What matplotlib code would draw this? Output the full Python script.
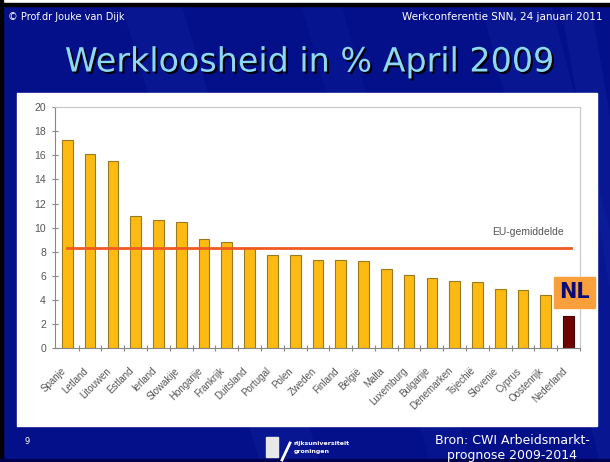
import matplotlib
matplotlib.use("Agg")
import matplotlib.pyplot as plt
from matplotlib.patches import Rectangle, Polygon
import matplotlib.patheffects as pe

countries = ["Spanje", "Letland", "Litouwen", "Estland", "Ierland", "Slowakije",
             "Hongarije", "Frankrijk", "Duitsland", "Portugal", "Polen", "Zweden",
             "Finland", "België", "Malta", "Luxemburg", "Bulgarije", "Denemarken",
             "Tsjechië", "Slovenië", "Cyprus", "Oostenrijk", "Nederland"]
values = [17.3, 16.1, 15.5, 11.0, 10.6, 10.5, 9.1, 8.8, 8.3, 7.7, 7.7, 7.35,
          7.35, 7.25, 6.6, 6.1, 5.85, 5.6, 5.5, 4.9, 4.85, 4.45, 2.7]
eu_average = 8.3
eu_label = "EU-gemiddelde"
y_ticks = list(range(0, 21, 2))

W, H = 610, 462
fig = plt.figure(figsize=(W / 100, H / 100), dpi=100)
fig.patch.set_facecolor("#050F88")

def fx(x): return x / W
def fy(y): return 1 - y / H

# background streaks
bg = fig.add_axes([0, 0, 1, 1])
bg.set_xlim(0, W); bg.set_ylim(H, 0); bg.axis("off")
bg.add_patch(Rectangle((0, 0), W, H, color="#04108A", zorder=0))
for (x0, x1, w, a) in [(120, 260, 60, 0.10), (300, 430, 40, 0.08), (480, 600, 70, 0.10), (560, 640, 30, 0.12)]:
    bg.add_patch(Polygon([(x0, 0), (x0 + w, 0), (x1 + w, H), (x1, H)], closed=True,
                         color="#2F4FD0", alpha=a, lw=0, zorder=1))
bg.add_patch(Rectangle((0, 0), W, 3, color="white", zorder=2))
bg.add_patch(Rectangle((0, 3), W, 3, color="black", zorder=2))
bg.add_patch(Rectangle((0, 0), 3, H, color="black", zorder=2))
bg.add_patch(Rectangle((0, H - 3), W, 3, color="#000050", zorder=2))
# white panel
bg.add_patch(Rectangle((17, 93), 580, 333, color="white", zorder=3))

# header
fig.text(fx(8), fy(17), "© Prof.dr Jouke van Dijk", color="white", fontsize=7,
         family="DejaVu Sans", ha="left", va="center")
fig.text(fx(603), fy(17), "Werkconferentie SNN, 24 januari 2011", color="white", fontsize=7.5,
         family="DejaVu Sans", ha="right", va="center")
fig.text(fx(310), fy(62), "Werkloosheid in % April 2009", color="#8ED8F2", fontsize=24,
         family="DejaVu Sans", ha="center", va="center",
         path_effects=[pe.withSimplePatchShadow(offset=(1.5, -1.5), shadow_rgbFace="black", alpha=0.9)])

# footer
fig.text(fx(25), fy(441), "9", color="white", fontsize=6, ha="left", va="center")
fig.text(fx(512), fy(440), "Bron: CWI Arbeidsmarkt-", color="white", fontsize=9,
         family="DejaVu Sans", ha="center", va="center")
fig.text(fx(512), fy(455), "prognose 2009-2014", color="white", fontsize=9,
         family="DejaVu Sans", ha="center", va="center")
# logo
bg.add_patch(Rectangle((266, 437), 12, 20, color="#E8E8E8", zorder=3))
bg.plot([282, 290], [460, 443], color="white", lw=2, zorder=3)
fig.text(fx(294), fy(443), "rijksuniversiteit", color="white", fontsize=4.5,
         fontweight="bold", ha="left", va="center")
fig.text(fx(294), fy(451), "groningen", color="white", fontsize=4.5,
         fontweight="bold", ha="left", va="center")

# chart
ax = fig.add_axes([fx(55), fy(348.3), (580 - 55) / W, (348.3 - 107) / H])
ax.set_facecolor("white")
x = list(range(len(countries)))
colors = ["#FDBA12"] * (len(countries) - 1) + ["#6E0505"]
edges = ["#9A7A1E"] * (len(countries) - 1) + ["#4A0000"]
ax.bar(x, values, width=0.47, color=colors, edgecolor=edges, linewidth=0.8, zorder=2)
ax.plot([x[0], x[-1] + 0.1], [eu_average, eu_average], color="#F05A22", lw=2.0, zorder=3)
ax.text(21.8, 9.65, eu_label, ha="right", va="center", fontsize=7.5,
        family="Liberation Sans", color="#555555")

ax.set_xlim(-0.54, len(countries) - 0.54)
ax.set_ylim(0, 20)
ax.set_yticks(y_ticks)
ax.set_yticklabels([str(t) for t in y_ticks], family="Liberation Sans", fontsize=7.5, color="#555555")
ax.tick_params(axis="y", direction="inout", length=5, width=0.8, color="#888888", pad=4)
ax.set_xticks([i - 0.15 for i in x])
ax.set_xticklabels(countries, rotation=45, ha="right", va="center", rotation_mode="anchor",
                   family="Liberation Sans", fontsize=7, color="#555555")
ax.tick_params(axis="x", which="major", length=0, pad=15)
ax.set_xticks([i + 0.5 for i in x], minor=True)
ax.tick_params(axis="x", which="minor", direction="inout", length=5, width=0.8, color="#888888")
for s in ["left", "bottom"]:
    ax.spines[s].set_color("#888888"); ax.spines[s].set_linewidth(0.8)
for s in ["top", "right"]:
    ax.spines[s].set_color("#C8C8C8"); ax.spines[s].set_linewidth(0.8)
bg.set_zorder(0); ax.set_zorder(1)

# NL label overlay
ov = fig.add_axes([0, 0, 1, 1]); ov.set_xlim(0, W); ov.set_ylim(H, 0); ov.axis("off")
ov.patch.set_alpha(0)
ov.add_patch(Rectangle((554, 277), 41, 31, color="#F9A03C"))
ov.text(574.5, 292.5, "NL", color="#0A0A78", fontsize=15, fontweight="bold",
        family="DejaVu Sans", ha="center", va="center")
ov.set_zorder(2)

fig.savefig("out.png", dpi=100)
